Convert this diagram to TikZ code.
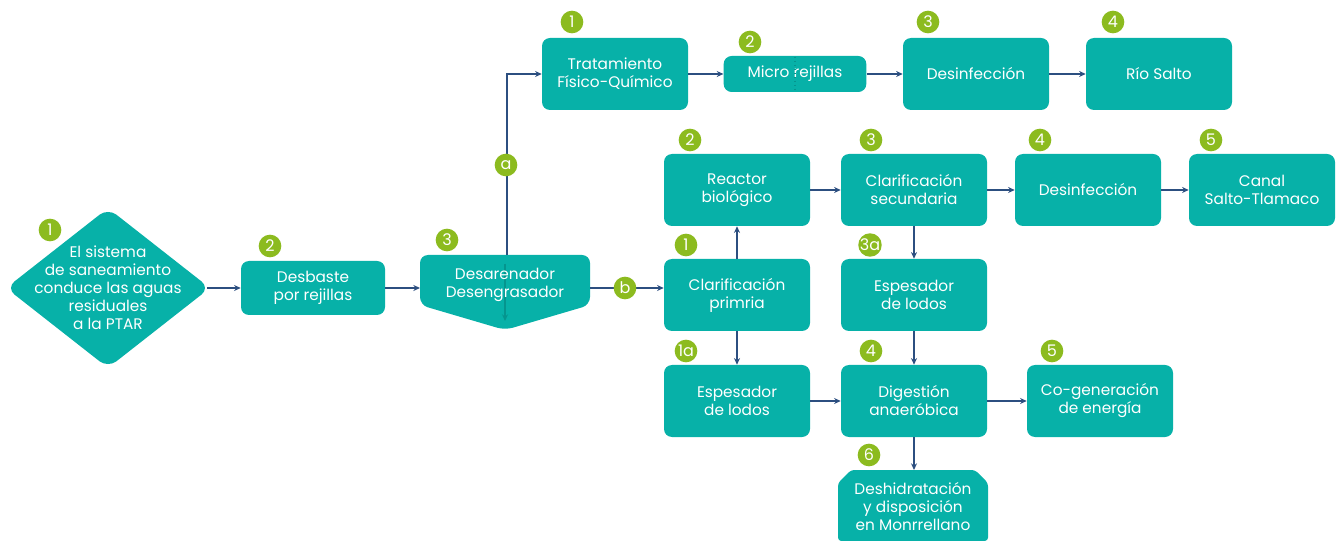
\documentclass[tikz,border=0pt]{standalone}
\usepackage{fontspec}
\setmainfont{Poppins}
\usetikzlibrary{shapes.geometric,arrows.meta}
\definecolor{agua}{HTML}{07B1A8}
\definecolor{hoja}{HTML}{8CBB1F}
\definecolor{flujo}{HTML}{2C4F80}
\definecolor{sombra}{HTML}{05958E}
\begin{document}
\begin{tikzpicture}[x=0.75pt,y=-0.75pt,
  caja/.style={fill=agua,rounded corners=6pt,minimum width=109.5pt,minimum height=54pt,
    text=white,align=center,inner sep=2pt,font=\fontsize{11.5}{13.5}\selectfont},
  texto/.style={text=white,align=center,inner sep=0pt,font=\fontsize{11.5}{13.5}\selectfont},
  badge/.style={circle,fill=hoja,text=white,minimum size=17pt,inner sep=0pt,
    font=\fontsize{12}{12}\selectfont},
  flecha/.style={draw=flujo,line width=1pt,-{Stealth[length=5pt,width=4.5pt]}}]
    \useasboundingbox (0,0) rectangle (1338,541);
    % entrada
    \node[diamond,fill=agua,rounded corners=8pt,inner sep=0pt,aspect=1.26,
      minimum width=153pt,minimum height=120pt](sis)at(108,288){};
    \node[texto](sistxt)at(108,288){El sistema\\de saneamiento\\conduce las aguas\\residuales\\a la PTAR};
    \node[badge](n1)at(50,230){1};
    \node[caja,minimum width=108pt,minimum height=40.5pt](desb)at(313,288){Desbaste\\por rejillas};
    \node[badge](n2)at(270,246){2};
    % desarenador
    \fill[agua,rounded corners=6pt](420,255)--(590,255)--(590,305)--(505,330)--(420,305)--cycle;
    \draw[sombra,line width=1.3pt,-{Stealth[length=5pt,width=4.5pt]}](505,264)--(505,321);
    \node[texto](desa)at(505,285){Desarenador\\Desengrasador};
    \coordinate(desaW)at(420,288);
    \coordinate(desaE)at(590,288);
    \coordinate(desaN)at(507,255);
    \node[badge](n3)at(447,240){3};
    % linea a
    \node[caja](tfq)at(615,74){Tratamiento\\Físico-Químico};
    \node[badge](a1)at(572,22){1};
    \node[caja,minimum width=107pt,minimum height=27pt](micro)at(795,74){Micro rejillas};
    \draw[sombra,line width=1pt,dotted](795,57)--(795,91);
    \node[badge](a2)at(750,42){2};
    \node[caja](desi1)at(976,74){Desinfección};
    \node[badge](a3)at(928,22){3};
    \node[caja](rio)at(1159,74){Río Salto};
    \node[badge](a4)at(1113,22){4};
    % linea b
    \node[caja](cpri)at(737,295){Clarificación\\primria};
    \node[badge](b1)at(686,245){1};
    \node[caja](reac)at(737,190){Reactor\\biológico};
    \node[badge](b2)at(690,140){2};
    \node[caja](csec)at(914,190){Clarificación\\secundaria};
    \node[badge](b3)at(871,140){3};
    \node[caja](desi2)at(1088,190){Desinfección};
    \node[badge](b4)at(1040,140){4};
    \node[caja](canal)at(1262,190){Canal\\Salto-Tlamaco};
    \node[badge](b5)at(1211,140){5};
    \node[caja](esp3)at(914,295){Espesador\\de lodos};
    \node[badge](b3a)at(870,245){3a};
    \node[caja](esp1)at(737,401){Espesador\\de lodos};
    \node[badge](b1a)at(686,351){1a};
    \node[caja](dig)at(914,401){Digestión\\anaeróbica};
    \node[badge](b4b)at(871,351){4};
    \node[caja](cogen)at(1100,401){Co-generación\\de energía};
    \node[badge](b5b)at(1052,351){5};
    % deshidratacion
    \fill[agua,rounded corners=2.5pt](851,470)--(975,470)--(988,483)--(988,541)--(838,541)--(838,483)--cycle;
    \node[texto](desh)at(913,507){Deshidratación\\y disposición\\en Monrrellano};
    \coordinate(deshN)at(914,470);
    \node[badge](b6)at(869,455){6};
    % flechas
    \coordinate(sisE)at(207,288);
    \draw[flecha](sisE)--(desb);
    \draw[flecha](desb)--(desaW);
    \draw[flecha](desaN)--(desaN|-tfq.west)--(tfq.west);
    \node[badge](la)at(506,165){a};
    \draw[flecha](desaE)--(desaE-|cpri.west);
    \node[badge](lb)at(625,288){b};
    \draw[flecha](tfq)--(micro);
    \draw[flecha](micro)--(desi1);
    \draw[flecha](desi1)--(rio);
    \draw[flecha](cpri)--(reac);
    \draw[flecha](reac)--(csec);
    \draw[flecha](csec)--(desi2);
    \draw[flecha](desi2)--(canal);
    \draw[flecha](csec)--(esp3);
    \draw[flecha](esp3)--(dig);
    \draw[flecha](cpri)--(esp1);
    \draw[flecha](esp1)--(dig);
    \draw[flecha](dig)--(cogen);
    \draw[flecha](dig)--(deshN);
\end{tikzpicture}
\end{document}
